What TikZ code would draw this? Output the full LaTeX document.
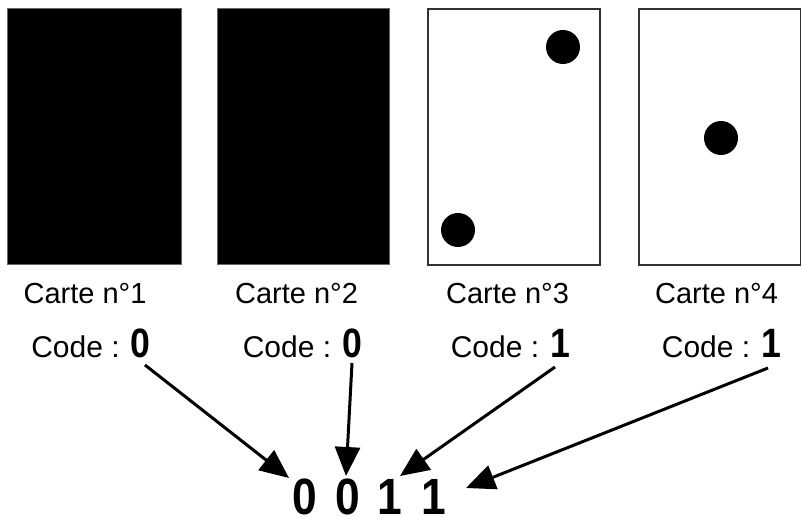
\documentclass[tikz,border=0pt]{standalone}
\usepackage{fontspec}
\setmainfont{Liberation Sans}
\usetikzlibrary{arrows.meta}
\newcommand{\narrowdigit}[1]{\scalebox{0.87}[1]{#1}}
\begin{document}
\begin{tikzpicture}[x=1pt,y=-1pt,
  blackcard/.style={fill=black,draw=black!60,line width=0.8pt},
  whitecard/.style={fill=white,draw=black!80,line width=1.6pt},
  dot/.style={fill=black},
  cartelabel/.style={anchor=base,inner sep=0pt,font=\fontsize{29}{34}\selectfont},
  codelabel/.style={anchor=base,inner sep=0pt,font=\fontsize{30}{34}\selectfont},
  bigdigit/.style={anchor=base,inner sep=0pt,text depth=0pt,font=\fontsize{51}{56}\selectfont\bfseries},
  arr/.style={line width=3pt,-{Triangle[length=29pt,width=25pt]}}]
\useasboundingbox (0,0) rectangle (802,518);
\fill[white] (0,0) rectangle (802,518);
% cards
\draw[blackcard] (7,8) rectangle (181,264);
\draw[blackcard] (217,8) rectangle (389,264);
\draw[whitecard] (428,9) rectangle (600,265);
\draw[whitecard] (639,9) rectangle (800.5,265);
\fill[dot] (563,47) circle (17);
\fill[dot] (458,230) circle (17);
\fill[dot] (721,138) circle (17);
% labels
\node[cartelabel] (c1) at (85,303) {Carte n°1};
\node[cartelabel] (c2) at (296.5,303) {Carte n°2};
\node[cartelabel] (c3) at (507.5,303) {Carte n°3};
\node[cartelabel] (c4) at (716.5,303) {Carte n°4};
\node[codelabel] (k1) at (91,357) {Code : {\fontsize{41}{44}\selectfont\bfseries\narrowdigit{0}}};
\node[codelabel] (k2) at (302.5,357) {Code : {\fontsize{41}{44}\selectfont\bfseries\narrowdigit{0}}};
\node[codelabel] (k3) at (510.5,357) {Code : {\fontsize{41}{44}\selectfont\bfseries\narrowdigit{1}}};
\node[codelabel] (k4) at (721.5,357) {Code : {\fontsize{41}{44}\selectfont\bfseries\narrowdigit{1}}};
% result
\node[bigdigit] (d1) at (304.5,514) {\narrowdigit{0}};
\node[bigdigit] (d2) at (347.5,514) {\narrowdigit{0}};
\node[bigdigit] (d3) at (390,514) {\narrowdigit{1}};
\node[bigdigit] (d4) at (434,514) {\narrowdigit{1}};
% arrow ends
\coordinate (s1) at (145,365);
\coordinate (s2) at (352,363);
\coordinate (s3) at (555,367);
\coordinate (s4) at (768,368);
\coordinate (t1) at (289,478);
\coordinate (t2) at (346,476);
\coordinate (t3) at (400,476);
\coordinate (t4) at (466,488);
\draw[arr] (s1) -- (t1);
\draw[arr] (s2) -- (t2);
\draw[arr] (s3) -- (t3);
\draw[arr] (s4) -- (t4);
\end{tikzpicture}
\end{document}
